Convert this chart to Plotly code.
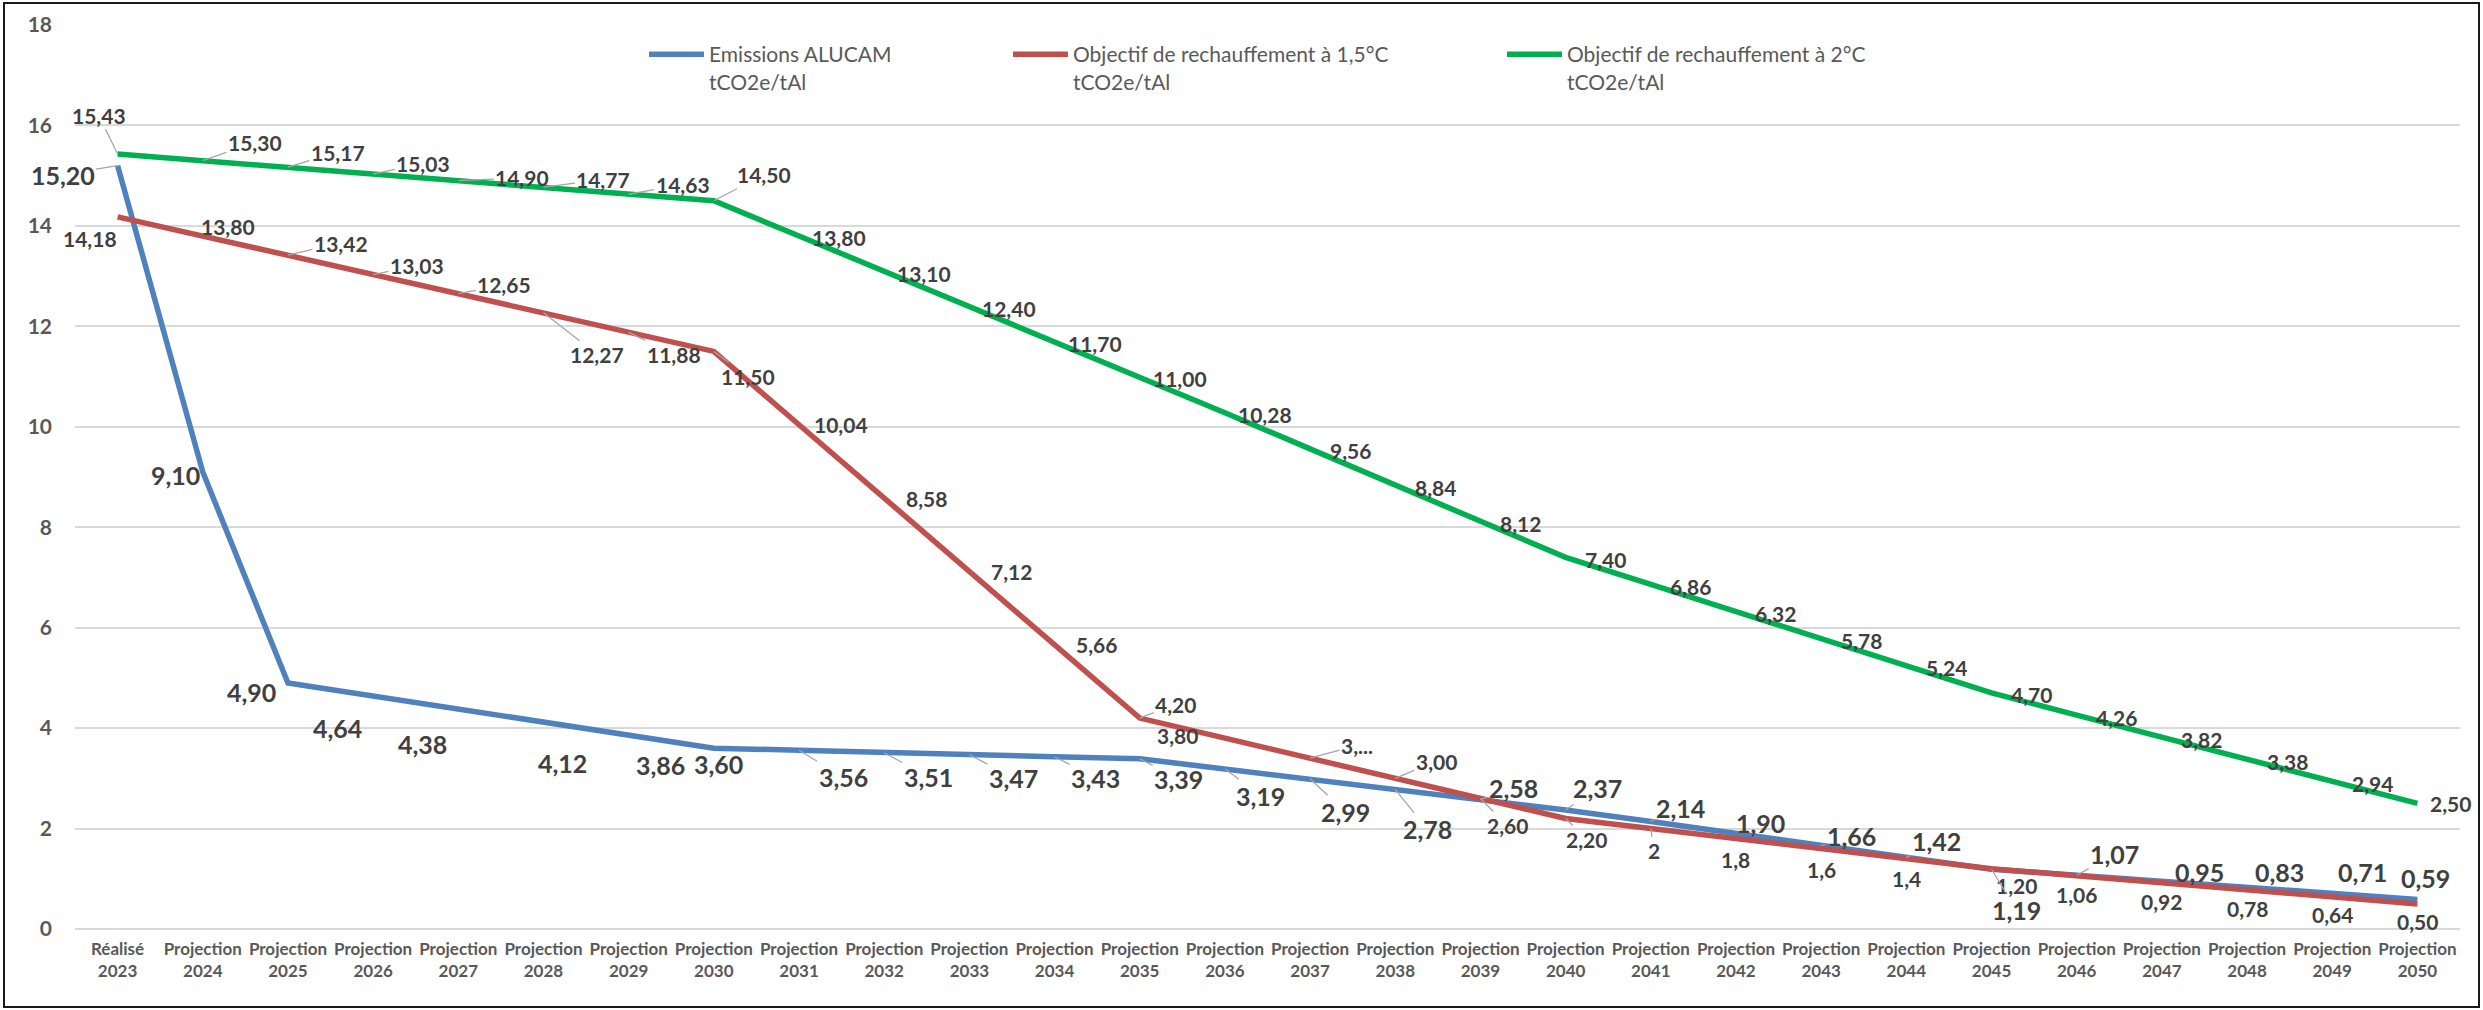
import plotly.graph_objects as go

# ---------------- data ----------------
years = [2023, 2024, 2025, 2026, 2027, 2028, 2029, 2030, 2031, 2032, 2033, 2034, 2035, 2036,
         2037, 2038, 2039, 2040, 2041, 2042, 2043, 2044, 2045, 2046, 2047, 2048, 2049, 2050]
phase = ["Réalisé"] + ["Projection"] * 27
categories = [f"{p}<br>{y}" for p, y in zip(phase, years)]

emissions = [15.20, 9.10, 4.90, 4.64, 4.38, 4.12, 3.86, 3.60, 3.56, 3.51, 3.47, 3.43, 3.39, 3.19,
             2.99, 2.78, 2.58, 2.37, 2.14, 1.90, 1.66, 1.42, 1.19, 1.07, 0.95, 0.83, 0.71, 0.59]
target_15 = [14.18, 13.80, 13.42, 13.03, 12.65, 12.27, 11.88, 11.50, 10.04, 8.58, 7.12, 5.66, 4.20, 3.80,
             3.40, 3.00, 2.60, 2.20, 2.00, 1.80, 1.60, 1.40, 1.20, 1.06, 0.92, 0.78, 0.64, 0.50]
target_2 = [15.43, 15.30, 15.17, 15.03, 14.90, 14.77, 14.63, 14.50, 13.80, 13.10, 12.40, 11.70, 11.00, 10.28,
            9.56, 8.84, 8.12, 7.40, 6.86, 6.32, 5.78, 5.24, 4.70, 4.26, 3.82, 3.38, 2.94, 2.50]
labels_15 = ["14,18", "13,80", "13,42", "13,03", "12,65", "12,27", "11,88", "11,50", "10,04", "8,58",
             "7,12", "5,66", "4,20", "3,80", "3,...", "3,00", "2,60", "2,20", "2", "1,8", "1,6", "1,4",
             "1,20", "1,06", "0,92", "0,78", "0,64", "0,50"]

names = ["Emissions ALUCAM<br>tCO2e/tAl",
         "Objectif de rechauffement à 1,5°C<br>tCO2e/tAl",
         "Objectif de rechauffement à 2°C<br>tCO2e/tAl"]

# ---------------- label placement (pixel offsets from point, leader line flag) ----------------
off_blue = [(-55, 9, 1), (-27, 3, 0), (-36, 9, 0), (-36, 32, 0), (-36, 35, 0), (19, 41, 0), (32, 30, 0),
            (5, 16, 0), (44, 27, 1), (44, 24, 1), (44, 23, 1), (41, 21, 1), (39, 20, 1), (36, 27, 1),
            (35, 33, 1), (32, 40, 1), (33, -11, 1), (32, -22, 1), (30, -14, 1), (25, -11, 0), (30, -10, 1),
            (30, -17, 1), (25, 41, 1), (38, -21, 1), (38, -9, 0), (32, -15, 0), (30, -21, 0), (8, -21, 0)]
off_red = [(-28, 22, 0), (25, -9, 0), (53, -12, 1), (44, -9, 1), (46, -9, 1), (54, 42, 1), (45, 22, 1),
           (34, 25, 1), (42, 0, 0), (42, 0, 0), (42, 0, 0), (42, 0, 0), (36, -14, 1), (-47, -3, 0),
           (47, -13, 1), (41, -17, 1), (27, 27, 1), (21, 21, 1), (3, 22, 1), (0, 21, 0), (0, 21, 0),
           (0, 20, 0), (25, 17, 1), (0, 19, 0), (0, 19, 0), (0, 19, 0), (0, 18, 0), (0, 18, 0)]
off_green = [(-19, -39, 1), (52, -18, 1), (50, -15, 1), (50, -11, 1), (64, -3, 1), (60, -8, 1), (54, -10, 1),
             (50, -26, 1)] + [(40, 2, 0)] * 19 + [(33, 0, 0)]

BLUE, RED, GREEN = "#4F81BD", "#C0504D", "#00B050"
W, H = 2483, 1010
ML, MR, MT, MB = 75, 23, 25, 81
pw, ph = W - ML - MR, H - MT - MB

fig = go.Figure()
series = [(emissions, BLUE, "legend"), (target_15, RED, "legend2"), (target_2, GREEN, "legend3")]
for (vals, col, lg), nm in zip(series, names):
    fig.add_trace(go.Scatter(x=categories, y=vals, mode="lines", name=nm, legend=lg,
                             line=dict(color=col, width=5.5), hoverinfo="skip"))

def fmt(v):
    return f"{v:.2f}".replace(".", ",")

annots = []
def add_labels(vals, texts, offs, size):
    for c, v, t, (dx, dy, lead) in zip(categories, vals, texts, offs):
        a = dict(x=c, y=v, xref="x", yref="y", text=t,
                 font=dict(family="Lato", size=size, color="#404040", weight="bold"))
        if lead:
            a.update(showarrow=True, ax=dx, ay=dy, arrowhead=0, arrowwidth=1.3,
                     arrowcolor="#A6A6A6", standoff=0, startstandoff=0)
        else:
            a.update(showarrow=False, xshift=dx, yshift=-dy, xanchor="center", yanchor="middle")
        annots.append(a)

add_labels(target_2, [fmt(v) for v in target_2], off_green, 21)
add_labels(target_15, labels_15, off_red, 21)
add_labels(emissions, [fmt(v) for v in emissions], off_blue, 25)

# outer frame
shapes = [dict(type="rect", xref="paper", yref="paper",
               x0=(4 - ML) / pw, x1=(2479 - ML) / pw,
               y0=(H - 1007 - MB) / ph, y1=(H - 3 - MB) / ph,
               line=dict(color="#1a1a1a", width=2), fillcolor="rgba(0,0,0,0)", layer="below")]

legfont = dict(family="Lato", size=21, color="#595959")
def leg(xpx):
    return dict(orientation="h", xref="paper", yref="paper", x=(xpx - ML) / pw, y=1 - (34 - MT) / ph,
                xanchor="left", yanchor="top", font=legfont, itemwidth=55, valign="top",
                bgcolor="rgba(0,0,0,0)")

fig.update_layout(
    width=W, height=H, margin=dict(l=ML, r=MR, t=MT, b=MB, autoexpand=False),
    paper_bgcolor="white", plot_bgcolor="white",
    annotations=annots, shapes=shapes,
    legend=leg(644), legend2=leg(1008), legend3=leg(1502),
    xaxis=dict(type="category", range=[-0.5, 27.5], showgrid=False, showline=False, zeroline=False,
               ticks="", tickangle=0, ticklabelstandoff=8,
               tickfont=dict(family="Lato", size=17, color="#595959", weight="bold")),
    yaxis=dict(range=[0, 18], dtick=2, showgrid=True, gridcolor="#D9D9D9", gridwidth=1.5,
               zeroline=True, zerolinecolor="#D9D9D9", zerolinewidth=1.5, showline=False,
               ticks="", ticklabelstandoff=22,
               tickfont=dict(family="Lato", size=21, color="#595959", weight="bold")),
    showlegend=True,
)

fig.write_html("out.html", config={"displayModeBar": False},
               post_script="document.body.style.margin='0';document.body.style.overflow='hidden';")
